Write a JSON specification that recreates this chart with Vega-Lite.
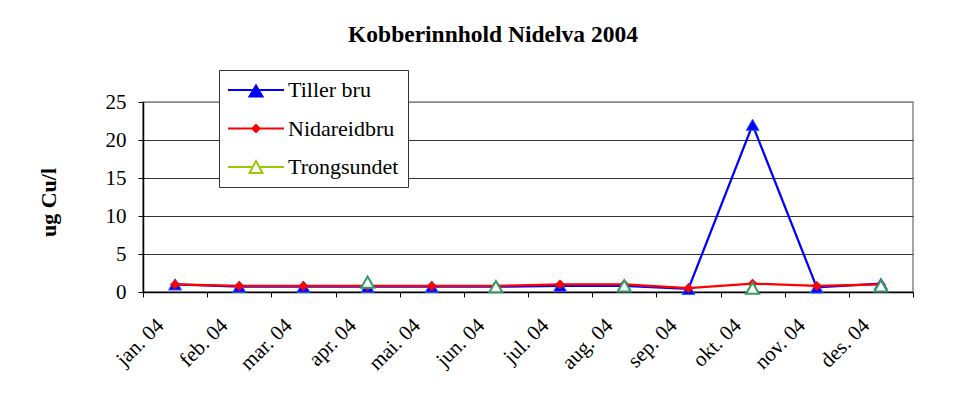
{
  "$schema": "https://vega.github.io/schema/vega-lite/v6.json",
  "width": 770,
  "height": 190,
  "autosize": {"type": "none"},
  "padding": {"left": 143, "top": 102, "right": 49, "bottom": 111},
  "background": "#ffffff",
  "title": {
    "text": "Kobberinnhold Nidelva 2004",
    "font": "Liberation Serif",
    "fontSize": 23.5,
    "fontWeight": "bold",
    "color": "#000000",
    "frame": "group",
    "anchor": "middle",
    "dx": -35,
    "offset": 4,
    "baseline": "alphabetic"
  },
  "config": {
    "font": "Liberation Serif",
    "view": {"stroke": "#888888", "strokeWidth": 1.5}
  },
  "data": {
    "values": [
      {"mnd": "jan. 04", "serie": "Tiller bru", "v": 1.0},
      {"mnd": "feb. 04", "serie": "Tiller bru", "v": 0.7},
      {"mnd": "mar. 04", "serie": "Tiller bru", "v": 0.7},
      {"mnd": "apr. 04", "serie": "Tiller bru", "v": 0.7},
      {"mnd": "mai. 04", "serie": "Tiller bru", "v": 0.7},
      {"mnd": "jun. 04", "serie": "Tiller bru", "v": 0.7},
      {"mnd": "jul. 04", "serie": "Tiller bru", "v": 0.8},
      {"mnd": "aug. 04", "serie": "Tiller bru", "v": 0.8},
      {"mnd": "sep. 04", "serie": "Tiller bru", "v": 0.4},
      {"mnd": "okt. 04", "serie": "Tiller bru", "v": 22.0},
      {"mnd": "nov. 04", "serie": "Tiller bru", "v": 0.6},
      {"mnd": "des. 04", "serie": "Tiller bru", "v": 1.1},
      {"mnd": "jan. 04", "serie": "Nidareidbru", "v": 1.0},
      {"mnd": "feb. 04", "serie": "Nidareidbru", "v": 0.8},
      {"mnd": "mar. 04", "serie": "Nidareidbru", "v": 0.8},
      {"mnd": "apr. 04", "serie": "Nidareidbru", "v": 0.8},
      {"mnd": "mai. 04", "serie": "Nidareidbru", "v": 0.8},
      {"mnd": "jun. 04", "serie": "Nidareidbru", "v": 0.8},
      {"mnd": "jul. 04", "serie": "Nidareidbru", "v": 1.0},
      {"mnd": "aug. 04", "serie": "Nidareidbru", "v": 1.0},
      {"mnd": "sep. 04", "serie": "Nidareidbru", "v": 0.5},
      {"mnd": "okt. 04", "serie": "Nidareidbru", "v": 1.1},
      {"mnd": "nov. 04", "serie": "Nidareidbru", "v": 0.8},
      {"mnd": "des. 04", "serie": "Nidareidbru", "v": 1.0},
      {"mnd": "apr. 04", "serie": "Trongsundet", "v": 1.3},
      {"mnd": "jun. 04", "serie": "Trongsundet", "v": 0.7},
      {"mnd": "aug. 04", "serie": "Trongsundet", "v": 0.8},
      {"mnd": "okt. 04", "serie": "Trongsundet", "v": 0.5},
      {"mnd": "des. 04", "serie": "Trongsundet", "v": 0.8}
    ]
  },
  "encoding": {
    "x": {
      "field": "mnd",
      "type": "ordinal",
      "sort": ["jan. 04", "feb. 04", "mar. 04", "apr. 04", "mai. 04", "jun. 04", "jul. 04", "aug. 04", "sep. 04", "okt. 04", "nov. 04", "des. 04"],
      "scale": {"type": "band", "paddingInner": 0, "paddingOuter": 0},
      "bandPosition": 0.5,
      "axis": {
        "title": null,
        "tickBand": "extent",
        "labelAngle": -45,
        "labelAlign": "right",
        "labelBaseline": "middle",
        "labelFont": "Times New Roman",
        "labelFontSize": 21,
        "labelColor": "#000000",
        "labelPadding": 25,
        "labelOffset": -15,
        "domainColor": "#000000",
        "domainWidth": 1.5,
        "tickColor": "#000000",
        "tickSize": 5,
        "grid": false
      }
    },
    "y": {
      "field": "v",
      "type": "quantitative",
      "scale": {"domain": [0, 25], "nice": false, "zero": true},
      "axis": {
        "values": [0, 5, 10, 15, 20, 25],
        "title": "ug Cu/l",
        "titleFont": "Liberation Serif",
        "titleFontSize": 22,
        "titleFontWeight": "bold",
        "titleColor": "#000000",
        "titleAngle": -90,
        "titleX": -95,
        "titleY": 100,
        "titleAlign": "center",
        "titleBaseline": "middle",
        "labelFont": "Times New Roman",
        "labelFontSize": 21,
        "labelColor": "#000000",
        "labelPadding": 12,
        "labelBaseline": "middle",
        "tickSize": 5,
        "tickColor": "#000000",
        "domainColor": "#000000",
        "domainWidth": 1.5,
        "grid": true,
        "gridColor": {"condition": {"test": "datum.value === 25", "value": "#888888"}, "value": "#333333"},
        "gridWidth": 1.2
      }
    }
  },
  "layer": [
    {
      "transform": [{"filter": "datum.serie === 'Tiller bru'"}],
      "mark": {"type": "line", "strokeWidth": 2.25},
      "encoding": {
        "color": {
          "field": "serie",
          "type": "nominal",
          "scale": {"domain": ["Tiller bru", "Nidareidbru", "Trongsundet"], "range": ["#0000ff", "#ff0000", "#99cc00"]},
          "legend": {
            "orient": "none",
            "legendX": 76,
            "legendY": -32,
            "title": null,
            "fillColor": "#ffffff",
            "strokeColor": "#333333",
            "padding": 9,
            "labelFont": "Times New Roman",
            "labelFontSize": 22,
            "labelColor": "#000000",
            "labelBaseline": "middle",
            "symbolSize": 400,
            "rowPadding": 16.5,
            "symbolStrokeWidth": 2,
            "symbolOffset": 17,
            "labelOffset": 21,
            "encode": {
              "symbols": {
                "update": {
                  "shape": {"signal": "datum.value === 'Tiller bru' ? 'M-2.8,0H2.8M0,-0.45L0.65,0.65L-0.65,0.65Z' : datum.value === 'Nidareidbru' ? 'M-2.8,0H2.8M0,-0.36L0.36,0L0,0.36L-0.36,0Z' : 'M-2.8,0H-0.33M0.33,0H2.8M0,-0.6L0.65,0.6L-0.65,0.6Z'"},
                  "fill": [
                    {"test": "datum.value === 'Trongsundet'", "value": "#ffffff"},
                    {"scale": "color", "field": "value"}
                  ],
                  "stroke": [
                    {"test": "datum.value === 'Trongsundet'", "value": {"gradient": "linear", "x1": 0, "y1": 0, "x2": 1, "y2": 0, "stops": [{"offset": 0, "color": "#99cc00"}, {"offset": 0.38, "color": "#99cc00"}, {"offset": 0.38, "color": "#339966"}, {"offset": 0.62, "color": "#339966"}, {"offset": 0.62, "color": "#99cc00"}, {"offset": 1, "color": "#99cc00"}]}},
                    {"scale": "color", "field": "value"}
                  ],
                  "strokeWidth": {"value": 2},
                  "opacity": {"value": 1}
                }
              }
            }
          }
        }
      }
    },
    {
      "transform": [{"filter": "datum.serie === 'Tiller bru'"}],
      "mark": {"type": "point", "shape": "triangle-up", "filled": true, "fill": "#0000ff", "stroke": "#3366ff", "strokeWidth": 1, "size": 170, "opacity": 1}
    },
    {
      "transform": [{"filter": "datum.serie === 'Nidareidbru'"}],
      "mark": {"type": "line", "strokeWidth": 2.25},
      "encoding": {
        "color": {"field": "serie", "type": "nominal"}
      }
    },
    {
      "transform": [{"filter": "datum.serie === 'Nidareidbru'"}],
      "mark": {"type": "point", "shape": "diamond", "filled": true, "fill": "#ff0000", "stroke": "#ff0000", "strokeWidth": 0.5, "size": 90, "opacity": 1}
    },
    {
      "transform": [{"filter": "datum.serie === 'Trongsundet'"}],
      "mark": {"type": "point", "shape": "triangle-up", "filled": false, "fill": "#ffffff", "stroke": "#339966", "strokeWidth": 2, "size": 170, "opacity": 1}
    }
  ]
}
